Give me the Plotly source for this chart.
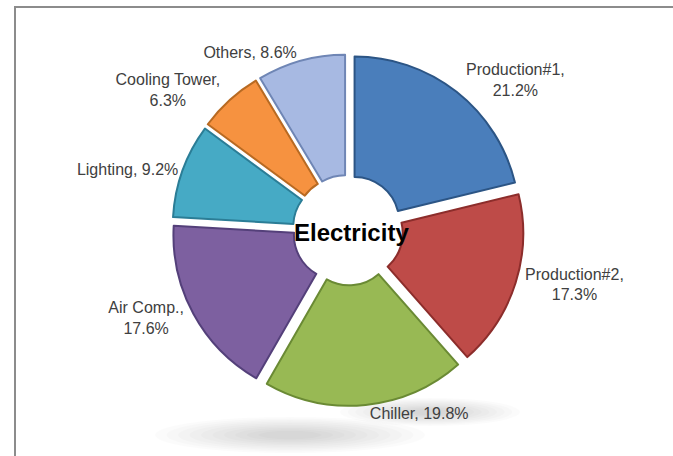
import plotly.graph_objects as go

labels = ["Production#1", "Production#2", "Chiller", "Air Comp.", "Lighting", "Cooling Tower", "Others"]
shares = [21.2, 17.3, 19.8, 17.6, 9.2, 6.3, 8.6]
two_line = [True, True, False, True, False, True, False]
colors = ["#4A7EBB", "#BE4B48", "#98B954", "#7D60A0", "#46AAC5", "#F69240", "#A7B9E2"]
edges = ["#2C5585", "#8C2D2B", "#6A8A34", "#54407A", "#2B7D96", "#B86A22", "#6F86B5"]
center_title = "Electricity"

texts = [f"{l},<br>{v}%" if b else f"{l}, {v}%" for l, v, b in zip(labels, shares, two_line)]

fig = go.Figure(go.Pie(
    labels=labels,
    values=shares,
    text=texts,
    textinfo="text",
    textposition="outside",
    hoverinfo="label+percent",
    sort=False,
    direction="clockwise",
    rotation=0,
    hole=0.27,
    pull=[0.065] * len(shares),
    marker=dict(colors=colors, line=dict(color=edges, width=2)),
    textfont=dict(family="Liberation Sans", size=16, color="#404040"),
    domain=dict(x=[0.2, 0.834], y=[0.110, 0.881]),
    showlegend=False,
))

fig.add_annotation(
    x=0.523, y=0.491, xref="paper", yref="paper",
    text=f"<b>{center_title}</b>", showarrow=False,
    font=dict(family="Liberation Sans", size=24, color="#000000"),
)

# soft drop shadow beneath the ring (decorative)
W, H = 673, 456
for cx, cy, rx, ry in [(290, 435, 135, 18), (430, 412, 90, 14)]:
    for k in range(10):
        s = 1 - 0.085 * k
        fig.add_shape(type="circle", xref="paper", yref="paper", layer="below",
                      x0=(cx - rx * s) / W, x1=(cx + rx * s) / W,
                      y0=1 - (cy + ry * s) / H, y1=1 - (cy - ry * s) / H,
                      line=dict(width=0), fillcolor="rgba(0,0,0,0.014)")

fig.add_shape(type="rect", xref="paper", yref="paper",
              x0=15 / W, x1=1.05, y0=-0.05, y1=1 - 7 / H,
              line=dict(color="#8C8C8C", width=2), fillcolor="rgba(0,0,0,0)")

fig.update_layout(
    width=W, height=H,
    margin=dict(l=0, r=0, t=0, b=0, autoexpand=False),
    paper_bgcolor="white", plot_bgcolor="white",
)

fig.write_html("out.html", config={"displayModeBar": False},
               post_script="document.body.style.margin='0';document.body.style.overflow='hidden';")
